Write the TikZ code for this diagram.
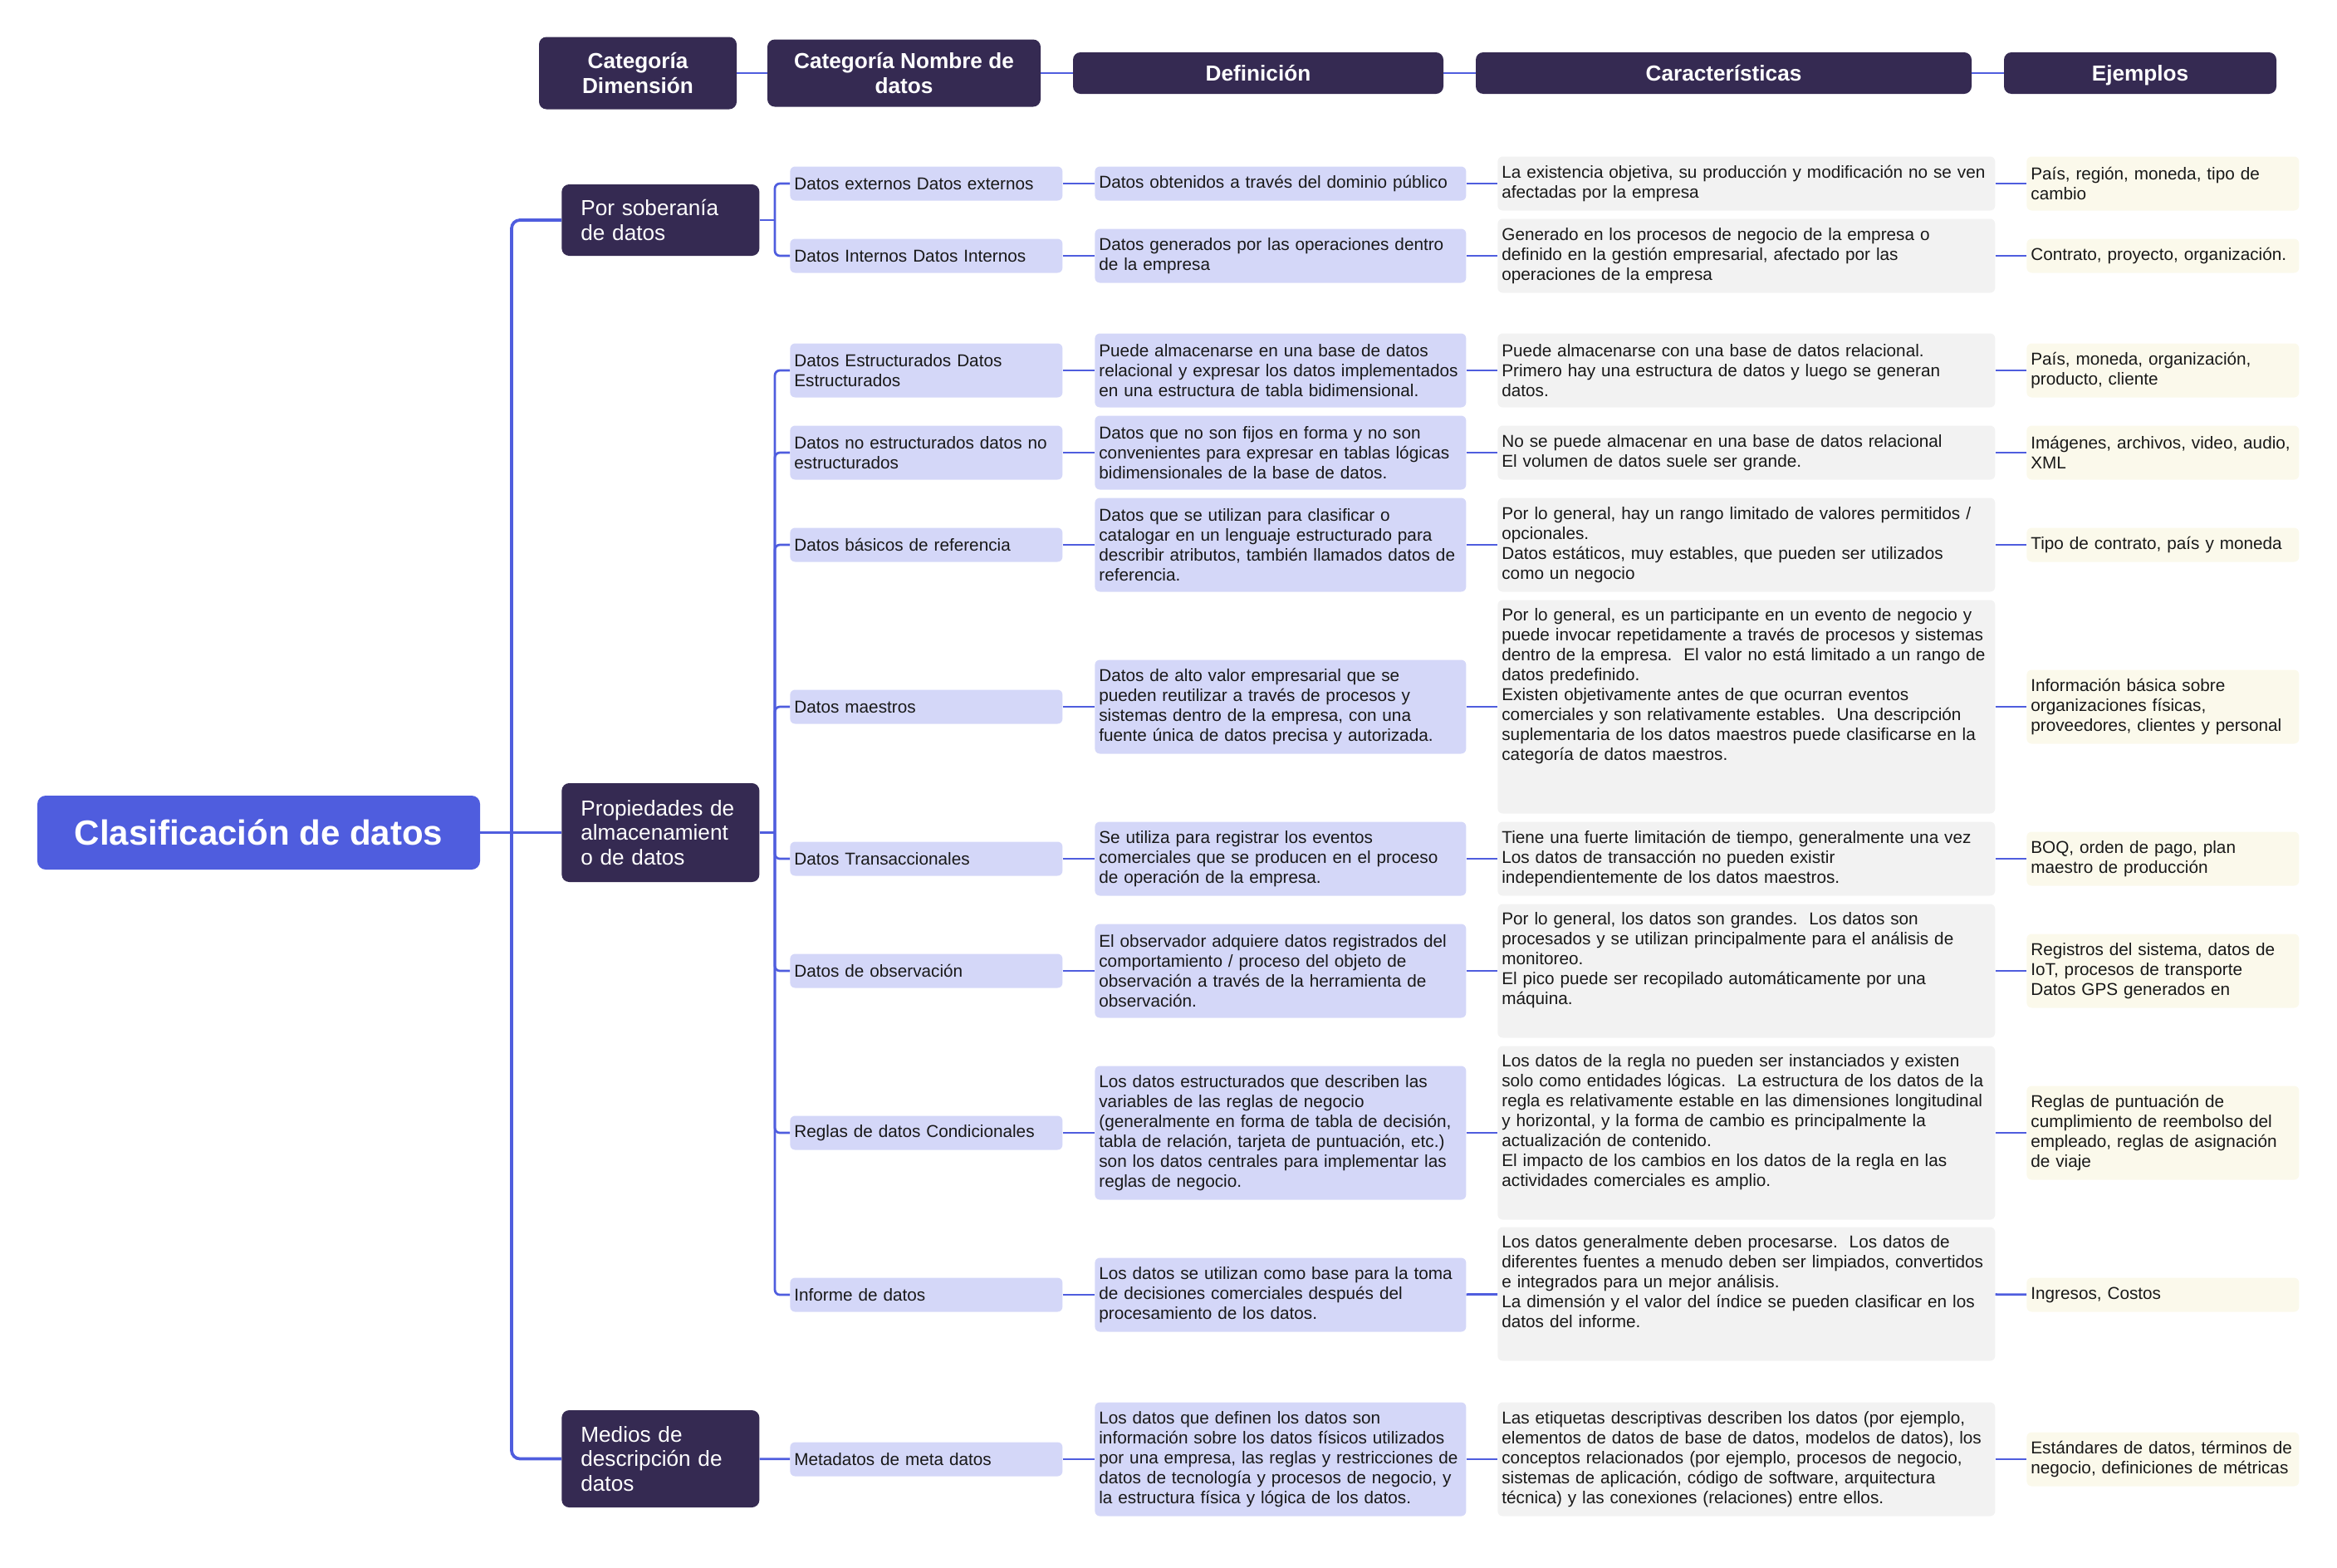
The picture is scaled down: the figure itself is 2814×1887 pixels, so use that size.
\documentclass[tikz,border=0pt]{standalone}
\usepackage{fontspec}
\setmainfont{Liberation Sans}
\frenchspacing
\definecolor{night}{RGB}{53,42,82}
\definecolor{royal}{RGB}{79,93,222}
\definecolor{lilac}{RGB}{212,215,248}
\definecolor{mist}{RGB}{242,242,242}
\definecolor{cream}{RGB}{251,249,235}
\definecolor{ink}{RGB}{25,25,25}
\newcommand{\toptext}[2]{\noindent\parbox[c][\dimexpr 4.8mm*#1-0.6mm\relax][t]{\hsize}{\raggedright #2}}

\begin{document}
\begin{tikzpicture}[x=0.2mm,y=-0.2mm,
    cell/.style={rounded corners=1.2mm,text=ink,inner xsep=1mm,inner ysep=0.5mm,align=left,anchor=west,
      font=\fontsize{11.8pt}{13.66pt}\selectfont},
    textrows/.style={minimum height={4.8mm*#1+3.4mm}},
    namecell/.style={cell,fill=lilac,text width=63.6mm},
    defcell/.style={cell,fill=lilac,text width=87.4mm},
    charcell/.style={cell,fill=mist,text width=117.8mm},
    examplecell/.style={cell,fill=cream,text width=63.6mm},
    headbox/.style={fill=night,text=white,rounded corners=1.8mm,align=center,
      font=\bfseries\fontsize{14.9pt}{17pt}\selectfont},
    oneline/.style={text depth=0pt},
    groupbox/.style={fill=night,text=white,rounded corners=1.8mm,align=left,anchor=west,
      text width=38.4mm,inner xsep=4.6mm,font=\fontsize{14.9pt}{17pt}\selectfont},
    link/.style={draw=royal,line width=0.55mm},
    trunk/.style={draw=royal,line width=0.75mm}]
    \useasboundingbox (0,0) rectangle (2814,1887);

    % column headers
    \node[headbox,minimum width=47.6mm,minimum height=17.4mm] (h1) at (768,88) {Categoría\\Dimensión};
    \node[headbox,minimum width=65.8mm,minimum height=16.2mm] (h2) at (1088.5,88) {Categoría Nombre de\\datos};
    \node[headbox,oneline,minimum width=89.2mm,minimum height=10mm] (h3) at (1515,88) {Definición};
    \node[headbox,oneline,minimum width=119.4mm,minimum height=10mm] (h4) at (2075.5,88) {Características};
    \node[headbox,oneline,minimum width=65.6mm,minimum height=10mm] (h5) at (2577,88) {Ejemplos};
    \foreach \a/\b in {h1/h2,h2/h3,h3/h4,h4/h5}
      \draw[link] (\a) -- (\b);

    % root and groups
    \node[fill=royal,text=white,rounded corners=2mm,minimum width=106.6mm,minimum height=17.8mm,
      font=\bfseries\fontsize{23.9pt}{28pt}\selectfont] (root) at (311.5,1002.5) {Clasificación de datos};
    \node[groupbox,minimum height=17.2mm] (p1) at (676,265) {Por soberanía\\de datos};
    \node[groupbox,minimum height=23.8mm] (p2) at (676,1002.5) {Propiedades de\\almacenamient\\o de datos};
    \node[groupbox,minimum height=23.4mm] (p3) at (676,1756.5) {Medios de\\descripción de\\datos};

    \foreach \y/\n/\t [count=\i] in {
      221/1/{Datos externos Datos externos},
      308/1/{Datos Internos Datos Internos},
      446/2/{Datos Estructurados Datos\\Estructurados},
      545/2/{Datos no estructurados datos no\\estructurados},
      656/1/{Datos básicos de referencia},
      851/1/{Datos maestros},
      1034/1/{Datos Transaccionales},
      1169/1/{Datos de observación},
      1364/1/{Reglas de datos Condicionales},
      1559/1/{Informe de datos},
      1757/1/{Metadatos de meta datos}}
      \node[namecell,textrows=\n] (c\i) at (951,\y) {\t};

    \foreach \y/\n/\t [count=\i] in {
      221/1/{Datos obtenidos a través del dominio público},
      308/2/{Datos generados por las operaciones dentro\\de la empresa},
      446/3/{Puede almacenarse en una base de datos\\relacional y expresar los datos implementados\\en una estructura de tabla bidimensional.},
      545/3/{Datos que no son fijos en forma y no son\\convenientes para expresar en tablas lógicas\\bidimensionales de la base de datos.},
      656/4/{Datos que se utilizan para clasificar o\\catalogar en un lenguaje estructurado para\\describir atributos, también llamados datos de\\referencia.},
      851/4/{Datos de alto valor empresarial que se\\pueden reutilizar a través de procesos y\\sistemas dentro de la empresa, con una\\fuente única de datos precisa y autorizada.},
      1034/3/{Se utiliza para registrar los eventos\\comerciales que se producen en el proceso\\de operación de la empresa.},
      1169/4/{El observador adquiere datos registrados del\\comportamiento / proceso del objeto de\\observación a través de la herramienta de\\observación.},
      1364/6/{Los datos estructurados que describen las\\variables de las reglas de negocio\\(generalmente en forma de tabla de decisión,\\tabla de relación, tarjeta de puntuación, etc.)\\son los datos centrales para implementar las\\reglas de negocio.},
      1559/3/{Los datos se utilizan como base para la toma\\de decisiones comerciales después del\\procesamiento de los datos.},
      1757/5/{Los datos que definen los datos son\\información sobre los datos físicos utilizados\\por una empresa, las reglas y restricciones de\\datos de tecnología y procesos de negocio, y\\la estructura física y lógica de los datos.}}
      \node[defcell,textrows=\n] (d\i) at (1318,\y) {\t};

    \foreach \y/\n/\t [count=\i] in {
      221/2/{La existencia objetiva, su producción y modificación no se ven\\afectadas por la empresa},
      308/3/{Generado en los procesos de negocio de la empresa o\\definido en la gestión empresarial, afectado por las\\operaciones de la empresa},
      446/3/{Puede almacenarse con una base de datos relacional.\\Primero hay una estructura de datos y luego se generan\\datos.},
      545/2/{No se puede almacenar en una base de datos relacional\\El volumen de datos suele ser grande.},
      656/4/{Por lo general, hay un rango limitado de valores permitidos /\\opcionales.\\Datos estáticos, muy estables, que pueden ser utilizados\\como un negocio},
      851/10/{\toptext{10}{Por lo general, es un participante en un evento de negocio y\\puede invocar repetidamente a través de procesos y sistemas\\dentro de la empresa.~ El valor no está limitado a un rango de\\datos predefinido.\\Existen objetivamente antes de que ocurran eventos\\comerciales y son relativamente estables.~ Una descripción\\suplementaria de los datos maestros puede clasificarse en la\\categoría de datos maestros.}},
      1034/3/{Tiene una fuerte limitación de tiempo, generalmente una vez\\Los datos de transacción no pueden existir\\independientemente de los datos maestros.},
      1169/6/{\toptext{6}{Por lo general, los datos son grandes.~ Los datos son\\procesados y se utilizan principalmente para el análisis de\\monitoreo.\\El pico puede ser recopilado automáticamente por una\\máquina.}},
      1364/8/{\toptext{8}{Los datos de la regla no pueden ser instanciados y existen\\solo como entidades lógicas.~ La estructura de los datos de la\\regla es relativamente estable en las dimensiones longitudinal\\y horizontal, y la forma de cambio es principalmente la\\actualización de contenido.\\El impacto de los cambios en los datos de la regla en las\\actividades comerciales es amplio.}},
      1558/6/{\toptext{6}{Los datos generalmente deben procesarse.~ Los datos de\\diferentes fuentes a menudo deben ser limpiados, convertidos\\e integrados para un mejor análisis.\\La dimensión y el valor del índice se pueden clasificar en los\\datos del informe.}},
      1757/5/{Las etiquetas descriptivas describen los datos (por ejemplo,\\elementos de datos de base de datos, modelos de datos), los\\conceptos relacionados (por ejemplo, procesos de negocio,\\sistemas de aplicación, código de software, arquitectura\\técnica) y las conexiones (relaciones) entre ellos.}}
      \node[charcell,textrows=\n] (ch\i) at (1803,\y) {\t};

    \foreach \y/\n/\t [count=\i] in {
      221/2/{País, región, moneda, tipo de\\cambio},
      308/1/{Contrato, proyecto, organización.},
      446/2/{País, moneda, organización,\\producto, cliente},
      545/2/{Imágenes, archivos, video, audio,\\XML},
      656/1/{Tipo de contrato, país y moneda},
      851/3/{Información básica sobre\\organizaciones físicas,\\proveedores, clientes y personal},
      1034/2/{BOQ, orden de pago, plan\\maestro de producción},
      1169/3/{Registros del sistema, datos de\\IoT, procesos de transporte\\Datos GPS generados en},
      1364/4/{Reglas de puntuación de\\cumplimiento de reembolso del\\empleado, reglas de asignación\\de viaje},
      1559/1/{Ingresos, Costos},
      1757/2/{Estándares de datos, términos de\\negocio, definiciones de métricas}}
      \node[examplecell,textrows=\n] (e\i) at (2440,\y) {\t};

    % connectors
    \coordinate (fork) at (616,1002.5);
    \coordinate (b1) at (933,265);
    \coordinate (b2) at (933,1002.5);
    \draw[trunk] (root) -- (p2);
    \draw[trunk,rounded corners=2mm] (fork) |- (p1);
    \draw[trunk,rounded corners=2mm] (fork) |- (p3);
    \draw[link] (p1) -- (b1);
    \draw[link] (p2) -- (b2);
    \draw[link] (p3) -- (c11);
    \foreach \i in {1,2}
      \draw[link,rounded corners=1.2mm] (b1) |- (c\i);
    \foreach \i in {3,...,10}
      \draw[link,rounded corners=1.2mm] (b2) |- (c\i);
    \foreach \i in {1,...,11}
    {
      \draw[link] (c\i) -- (d\i);
      \draw[link] (d\i) -- (ch\i);
      \draw[link] (ch\i) -- (e\i);
    }
  \end{tikzpicture}
\end{document}
